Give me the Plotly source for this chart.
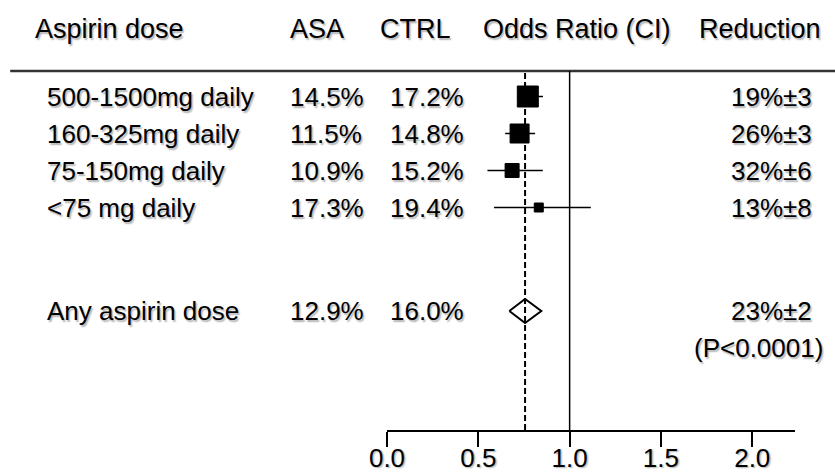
import plotly.graph_objects as go

# ---- data ----
doses = ["500-1500mg daily", "160-325mg daily", "75-150mg daily", "<75 mg daily"]
asa_rate = ["14.5%", "11.5%", "10.9%", "17.3%"]
ctrl_rate = ["17.2%", "14.8%", "15.2%", "19.4%"]
odds_ratio = [0.771, 0.726, 0.685, 0.831]
ci_low = [0.712, 0.647, 0.550, 0.586]
ci_high = [0.854, 0.811, 0.853, 1.116]
reduction = ["19%±3", "26%±3", "32%±6", "13%±8"]
box_size = [21, 19, 14, 9]

overall_label = "Any aspirin dose"
overall_asa = "12.9%"
overall_ctrl = "16.0%"
overall_or = 0.756
overall_low = 0.670
overall_high = 0.845
overall_reduction = "23%±2"
overall_p = "(P<0.0001)"

headers = ["Aspirin dose", "ASA", "CTRL", "Odds Ratio (CI)", "Reduction"]
tick_vals = [0.0, 0.5, 1.0, 1.5, 2.0]
tick_text = ["0.0", "0.5", "1.0", "1.5", "2.0"]
x_max = 2.234
ref_line = 1.0

# ---- layout geometry (pixels) ----
FW, FH = 835, 472
L, R_EDGE, TOP, BOT = 386.9, 795.0, 71.0, 430.0
PW = R_EDGE - L
PH = BOT - TOP
ROW0_PX, ROW_PX = 96.5, 37.0


def px_x(p):
    return (p - L) / PW


def px_y(p):
    return (BOT - p) / PH


def px_row(p):
    return 1 + (p - ROW0_PX) / ROW_PX


def row_px(r):
    return ROW0_PX + (r - 1) * ROW_PX


rows = [1 + i for i in range(len(doses))]
row_any = px_row(311)

FONT = "Liberation Sans, Arial, sans-serif"
SHADOW = "1.5px 1.5px 1.5px rgba(0,0,0,0.3)"
body_font = dict(family=FONT, size=26, color="black", shadow=SHADOW)
head_font = dict(family=FONT, size=27, color="black", shadow=SHADOW)

fig = go.Figure()

# CI whiskers
cx, cy = [], []
for lo, hi, r in zip(ci_low, ci_high, rows):
    cx += [lo, hi, None]
    cy += [r, r, None]
fig.add_trace(go.Scatter(x=cx, y=cy, mode="lines",
                         line=dict(color="black", width=1.5),
                         hoverinfo="skip", showlegend=False))

# squares
fig.add_trace(go.Scatter(x=odds_ratio, y=rows, mode="markers",
                         marker=dict(symbol="square", size=box_size, color="black",
                                     opacity=1, line=dict(color="black", width=1)),
                         showlegend=False))

# overall diamond
h = 12.0 / ROW_PX
fig.add_trace(go.Scatter(
    x=[overall_low, overall_or, overall_high, overall_or, overall_low],
    y=[row_any, row_any - h, row_any, row_any + h, row_any],
    mode="lines", fill="toself", fillcolor="white",
    line=dict(color="black", width=2), showlegend=False))

shapes = [
    dict(type="line", xref="paper", yref="paper", x0=px_x(10), x1=px_x(840),
         y0=1, y1=1, line=dict(color="#333", width=2.5)),
    dict(type="line", xref="x", yref="paper", x0=ref_line, x1=ref_line, y0=0, y1=1,
         line=dict(color="black", width=1.5)),
    dict(type="line", xref="x", yref="paper", x0=overall_or, x1=overall_or, y0=0, y1=1,
         line=dict(color="black", width=2, dash="6px,3px")),
]

ann = []


def add_text(text, xpx, ypx, anchor, font):
    ann.append(dict(text=text, xref="paper", yref="paper", x=px_x(xpx), y=px_y(ypx),
                    xanchor=anchor, yanchor="middle", showarrow=False, font=font))


# headers
HEAD_Y = 29
add_text(headers[0], 33, HEAD_Y, "left", head_font)
add_text(headers[1], 288, HEAD_Y, "left", head_font)
add_text(headers[2], 378, HEAD_Y, "left", head_font)
add_text(headers[3], 577, HEAD_Y, "center", head_font)
add_text(headers[4], 823, HEAD_Y, "right", head_font)

for d, a, c, red, r in zip(doses, asa_rate, ctrl_rate, reduction, rows):
    yp = row_px(r)
    add_text(d, 45, yp, "left", body_font)
    add_text(a, 288, yp, "left", body_font)
    add_text(c, 388, yp, "left", body_font)
    add_text(red, 814, yp, "right", body_font)

ya = row_px(row_any)
add_text(overall_label, 45, ya, "left", body_font)
add_text(overall_asa, 288, ya, "left", body_font)
add_text(overall_ctrl, 388, ya, "left", body_font)
add_text(overall_reduction, 814, ya, "right", body_font)
add_text(overall_p, 825, 348, "right", body_font)

fig.update_layout(
    width=FW, height=FH, template="none",
    paper_bgcolor="white", plot_bgcolor="white",
    margin=dict(l=L, r=FW - R_EDGE, t=TOP, b=FH - BOT, pad=0),
    showlegend=False, shapes=shapes, annotations=ann,
    font=dict(family=FONT, size=26, color="black"),
    xaxis=dict(range=[0, x_max], showline=True, linecolor="black", linewidth=1.5,
               ticks="outside", ticklen=15, tickwidth=1.5, tickcolor="black",
               ticklabelstandoff=-11,
               tickvals=tick_vals, ticktext=tick_text, showgrid=False,
               zeroline=False, automargin=False, fixedrange=True,
               tickfont=dict(family=FONT, size=26, color="black", shadow=SHADOW)),
    yaxis=dict(range=[px_row(BOT), px_row(TOP)], visible=False, showgrid=False,
               zeroline=False, automargin=False, fixedrange=True),
)

fig.write_html("out.html", config={"displayModeBar": False},
               post_script="document.body.style.margin='0';document.body.style.overflow='hidden';")
